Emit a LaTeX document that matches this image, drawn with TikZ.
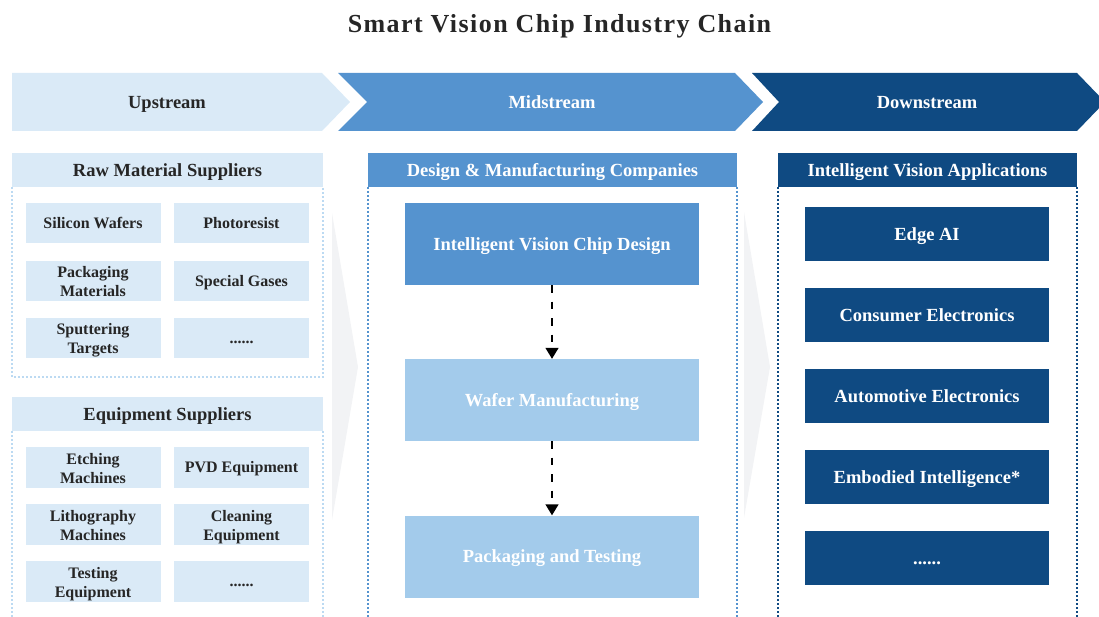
\documentclass[tikz,border=0pt]{standalone}
\usepackage{fontspec}
\setmainfont{Liberation Serif}
\usetikzlibrary{arrows.meta}

\definecolor{upfill}{HTML}{DAEAF7}
\definecolor{midfill}{HTML}{5593CF}
\definecolor{lightfill}{HTML}{A3CBEB}
\definecolor{downfill}{HTML}{0F4A82}
\definecolor{darktext}{HTML}{262626}
\definecolor{updots}{HTML}{BCDAF2}
\definecolor{flowgray}{HTML}{F2F3F5}

\tikzset{
  bigfont/.style={font=\bfseries\fontsize{18.5}{22}\selectfont,
    text height=12.2pt, text depth=0pt},
  smallfont/.style={font=\bfseries\fontsize{16}{19}\selectfont,
    text height=10.5pt, text depth=0pt},
  twoline/.style={text height=32pt, text depth=1pt},
  header/.style={bigfont, inner sep=0pt, minimum height=34pt, anchor=center},
  upheader/.style={header, fill=upfill, text=darktext, minimum width=311pt},
  midheader/.style={header, fill=midfill, text=white, minimum width=369pt},
  downheader/.style={header, fill=downfill, text=white, minimum width=299pt},
  item/.style={smallfont, fill=upfill, text=darktext, inner sep=0pt,
    minimum width=135pt, minimum height=40.5pt, align=center},
  stage/.style={bigfont, inner sep=0pt, minimum width=294pt,
    minimum height=82pt, text=white},
  appbox/.style={bigfont, fill=downfill, text=white, inner sep=0pt,
    minimum width=244pt, minimum height=54pt},
  bannertext/.style={bigfont, inner sep=0pt},
  frame/.style={line width=1.1pt, dash pattern=on 2pt off 2pt},
  flowarrow/.style={line width=1.4pt, dash pattern=on 7.5pt off 9pt,
    -{Triangle[width=13pt,length=11pt]}},
}

\begin{document}
\begin{tikzpicture}[x=1pt,y=-1pt]
\useasboundingbox (0,0) rectangle (1099,617);

% title
\node[font=\bfseries\fontsize{26}{30}\selectfont\addfontfeatures{LetterSpace=5.5},
  text=darktext, anchor=base, inner sep=0pt] (title) at (559.5,33) {Smart Vision Chip Industry Chain};

% stage banners
\fill[upfill] (12,73) -- (322,73) -- (350,102) -- (322,131) -- (12,131) -- cycle;
\fill[midfill] (338,73) -- (735,73) -- (763,102) -- (735,131) -- (338,131) -- (367,102) -- cycle;
\fill[downfill] (752,73) -- (1077,73) -- (1105,102) -- (1077,131) -- (752,131) -- (779,102) -- cycle;
\node[bannertext, text=darktext] (up) at (167,102) {Upstream};
\node[bannertext, text=white] (mid) at (552,102) {Midstream};
\node[bannertext, text=white] (down) at (927,102) {Downstream};

% flow chevrons between columns
\fill[flowgray] (332,213) -- (358,367) -- (332,520) -- cycle;
\fill[flowgray] (744,212) -- (770,367) -- (744,518) -- cycle;

% upstream: raw materials
\draw[frame, updots] (12,187) -- (12,377) -- (323,377) -- (323,187);
\node[upheader] (raw) at (167.5,170) {Raw Material Suppliers};
\node[item] (sw) at (93,223) {Silicon Wafers};
\node[item] (pr) at (241.5,223) {Photoresist};
\node[item, twoline] (pm) at (93,281) {Packaging\\Materials};
\node[item] (sg) at (241.5,281) {Special Gases};
\node[item, twoline] (st) at (93,338) {Sputtering\\Targets};
\node[item] (rm) at (241.5,338) {......};

% upstream: equipment
\draw[frame, updots] (12,431) -- (12,620);
\draw[frame, updots] (323,431) -- (323,620);
\node[upheader] (eq) at (167.5,414) {Equipment Suppliers};
\node[item, twoline] (em) at (93,467.5) {Etching\\Machines};
\node[item] (pvd) at (241.5,467.5) {PVD Equipment};
\node[item, twoline] (lm) at (93,524.5) {Lithography\\Machines};
\node[item, twoline] (ce) at (241.5,524.5) {Cleaning\\Equipment};
\node[item, twoline] (te) at (93,581.5) {Testing\\Equipment};
\node[item] (em2) at (241.5,581.5) {......};

% midstream
\draw[frame, midfill] (368,187) -- (368,620);
\draw[frame, midfill] (737,187) -- (737,620);
\node[midheader] (dm) at (552.5,170) {Design \& Manufacturing Companies};
\node[stage, fill=midfill] (cd) at (552,244) {Intelligent Vision Chip Design};
\node[stage, fill=lightfill] (wm) at (552,400) {Wafer Manufacturing};
\node[stage, fill=lightfill] (pt) at (552,556.5) {Packaging and Testing};
\draw[flowarrow] (cd.south) -- (wm.north);
\draw[flowarrow] (wm.south) -- (pt.north);

% downstream
\draw[frame, downfill] (778,187) -- (778,620);
\draw[frame, downfill] (1077,187) -- (1077,620);
\node[downheader] (iva) at (927.5,170) {Intelligent Vision Applications};
\node[appbox] (ai) at (927,234) {Edge AI};
\node[appbox] (cons) at (927,315) {Consumer Electronics};
\node[appbox] (auto) at (927,396) {Automotive Electronics};
\node[appbox] (emb) at (927,477) {Embodied Intelligence*};
\node[appbox] (more) at (927,558) {......};
\end{tikzpicture}
\end{document}
